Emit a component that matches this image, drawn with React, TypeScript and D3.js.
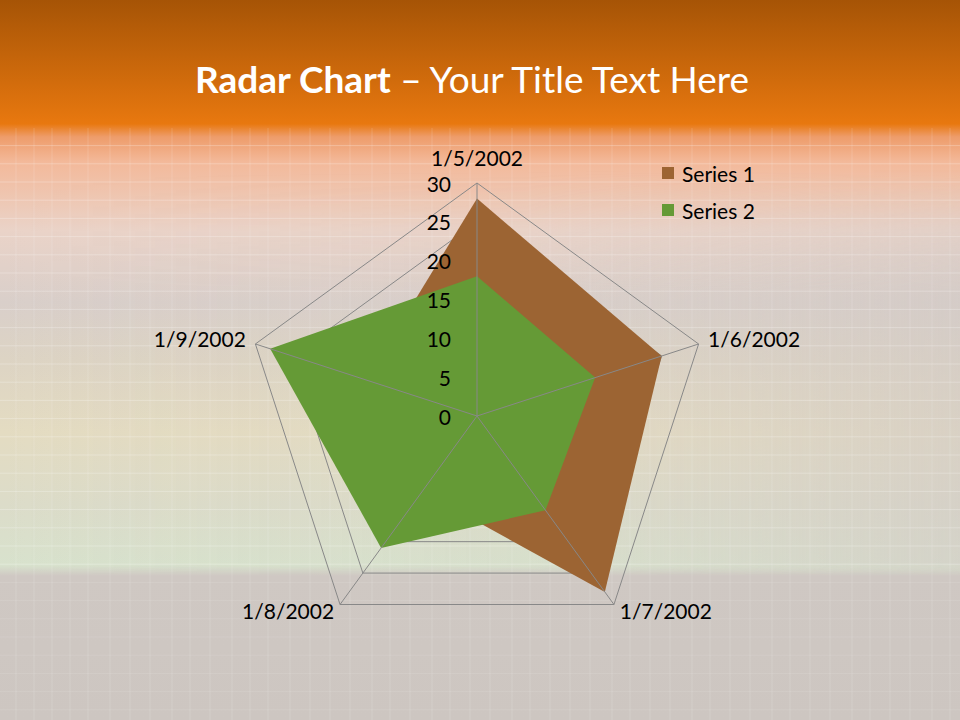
import React from "react";
import * as d3 from "d3";

const categories = ["1/5/2002", "1/6/2002", "1/7/2002", "1/8/2002", "1/9/2002"];
const series1 = [28, 25, 28, 12, 15];
const series2 = [18, 16, 15, 21, 28];
const seriesNames = ["Series 1", "Series 2"];
const seriesColors = ["#9c6433", "#659a36"];
const tickValues = [0, 5, 10, 15, 20, 25, 30];

const W = 960;
const H = 720;
const cx = 477;
const cy = 416;
const R = 233;
const FONT = "Lato, 'Open Sans', sans-serif";

export default function App() {
  const r = d3.scaleLinear().domain([0, 30]).range([0, R]);
  const n = categories.length;
  const angle = (i: number) => (i * 2 * Math.PI) / n;
  const pt = (i: number, v: number): [number, number] => [
    cx + Math.sin(angle(i)) * r(v),
    cy - Math.cos(angle(i)) * r(v),
  ];
  const radial = d3
    .lineRadial<number>()
    .angle((_, i) => angle(i))
    .radius((d) => r(d))
    .curve(d3.curveLinearClosed);

  const gridTicks = tickValues.filter((t) => t > 0);
  const series = [series1, series2];

  const hLines = d3.range(0, H, 18.2);
  const vLines = [16, 34, 52, 70, 88, 110, 130, 150, 172, 190, 210, 232, 250, 268, 290, 310, 330, 350, 372, 390, 410, 432, 450, 470, 490, 512, 530, 550, 570, 590, 612, 630, 650, 670, 692, 710, 730, 750, 772, 790, 810, 830, 852, 870, 890, 910, 932, 950];

  return (
    <svg
      width={W}
      height={H}
      style={{ position: "absolute", left: 0, top: 0, display: "block" }}
    >
      <defs>
        <linearGradient id="bg" x1="0" y1="0" x2="0" y2="1">
          <stop offset="0" stopColor="#a65406" />
          <stop offset="0.172" stopColor="#e8780f" />
          <stop offset="0.19" stopColor="#ee9c6a" />
          <stop offset="0.225" stopColor="#f3b99a" />
          <stop offset="0.32" stopColor="#ead3c8" />
          <stop offset="0.42" stopColor="#d9cfca" />
          <stop offset="0.5" stopColor="#ddd4c4" />
          <stop offset="0.6" stopColor="#e4dcc2" />
          <stop offset="0.7" stopColor="#dcdcc9" />
          <stop offset="0.785" stopColor="#d8e2cd" />
          <stop offset="0.8" stopColor="#cfc8c3" />
          <stop offset="1" stopColor="#cdc6c1" />
        </linearGradient>
        <linearGradient id="side" x1="0" y1="0" x2="1" y2="0">
          <stop offset="0" stopColor="#d4ccc6" stopOpacity="0" />
          <stop offset="0.55" stopColor="#d4ccc6" stopOpacity="0.1" />
          <stop offset="1" stopColor="#d2cac6" stopOpacity="0.6" />
        </linearGradient>
        <linearGradient id="vfade" x1="0" y1="0" x2="0" y2="1">
          <stop offset="0" stopColor="#fff" stopOpacity="0" />
          <stop offset="0.3" stopColor="#fff" stopOpacity="1" />
          <stop offset="0.97" stopColor="#fff" stopOpacity="1" />
          <stop offset="1" stopColor="#fff" stopOpacity="0" />
        </linearGradient>
        <mask id="sideMask" maskContentUnits="userSpaceOnUse">
          <rect x={0} y={170} width={W} height={405} fill="url(#vfade)" />
        </mask>
      </defs>
      <rect x={0} y={0} width={W} height={H} fill="url(#bg)" />
      <rect x={0} y={170} width={W} height={405} fill="url(#side)" mask="url(#sideMask)" />
      <g stroke="#ffffff" strokeWidth={1}>
        {hLines
          .filter((y) => y > 128)
          .map((y, i) => (
            <line key={"h" + i} x1={0} x2={W} y1={y} y2={y} strokeOpacity={y < 580 ? 0.25 : 0.1} />
          ))}
        {vLines.map((x, i) => (
          <line key={"v" + i} x1={x} x2={x} y1={128} y2={H} strokeOpacity={0.15} />
        ))}
      </g>

      <text
        x={472}
        y={93}
        textAnchor="middle"
        fill="#ffffff"
        fontFamily={FONT}
        fontSize={37}
      >
        <tspan fontWeight="bold">Radar Chart</tspan>
        <tspan> – Your Title Text Here</tspan>
      </text>

      <g fill="none" stroke="#888888" strokeWidth={1} transform={`translate(${cx},${cy})`}>
        {gridTicks.map((t) => (
          <path key={"g" + t} d={radial(categories.map(() => t)) || ""} />
        ))}
      </g>

      {series.map((s, k) => (
        <path key={"s" + k} d={radial(s) || ""} transform={`translate(${cx},${cy})`} fill={seriesColors[k]} />
      ))}

      <g stroke="#888888" strokeWidth={1}>
        {categories.map((c, i) => {
          const [x, y] = pt(i, 30);
          return <line key={"a" + i} x1={cx} y1={cy} x2={x} y2={y} />;
        })}
      </g>

      <g fontFamily={FONT} fontSize={21} fill="#000000">
        {tickValues.map((t) => (
          <text key={"t" + t} x={451} y={cy - r(t)} textAnchor="end" dominantBaseline="central">
            {t}
          </text>
        ))}
        {categories.map((c, i) => {
          const [x, y] = pt(i, 30 + 10 * (30 / R));
          const sx = Math.sin(angle(i));
          const anchor = Math.abs(sx) < 0.01 ? "middle" : sx > 0 ? "start" : "end";
          const dy = i === 0 ? -16 : -2;
          return (
            <text key={"c" + i} x={x} y={y + dy} textAnchor={anchor} dominantBaseline="central">
              {c}
            </text>
          );
        })}
      </g>

      <g fontFamily={FONT} fontSize={21} fill="#000000">
        {seriesNames.map((name, k) => (
          <g key={"l" + k} transform={`translate(662,${167 + k * 37})`}>
            <rect x={0} y={0} width={12} height={12} fill={seriesColors[k]} />
            <text x={20} y={6} dominantBaseline="central">
              {name}
            </text>
          </g>
        ))}
      </g>
    </svg>
  );
}
